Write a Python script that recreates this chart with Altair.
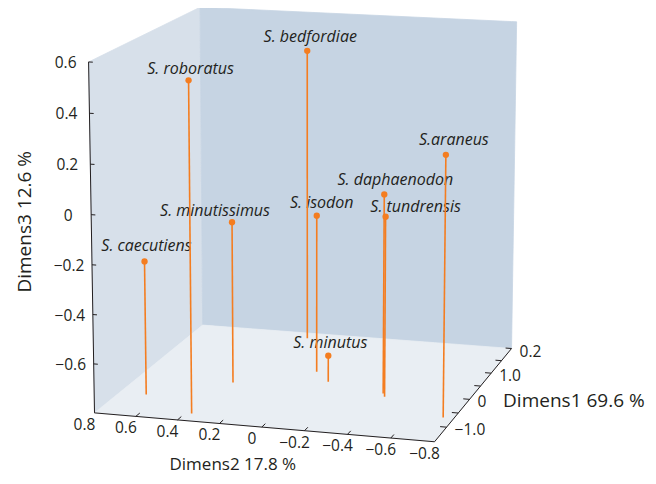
import numpy as np
import pandas as pd
import altair as alt

# ---------------- data ----------------
species = ["S. bedfordiae", "S. roboratus", "S.araneus", "S. daphaenodon", "S. tundrensis",
           "S. isodon", "S. minutissimus", "S. caecutiens", "S. minutus"]
dimens1 = [1.79, -1.25, -0.69, -0.04, -0.15, 0.55, -0.08, -0.74, 0.22]
dimens2 = [0.22, 0.37, -0.75, -0.39, -0.41, 0.01, 0.34, 0.67, -0.09]
dimens3 = [0.45, 0.53, 0.25, 0.02, -0.06, -0.14, -0.13, -0.25, -0.69]

d1_ticks = [-1.0, -0.5, 0.0, 0.5, 1.0, 1.5, 2.0]
d1_label_values = [-1.0, 0.0, 1.0, 2.0]
d1_label_texts = ["−1.0", "0", "1.0", "0.2"]
d2_ticks = [0.8, 0.6, 0.4, 0.2, 0.0, -0.2, -0.4, -0.6, -0.8]
d2_label_texts = ["0.8", "0.6", "0.4", "0.2", "0", "−0.2", "−0.4", "−0.6", "−0.8"]
d3_ticks = [0.6, 0.4, 0.2, 0.0, -0.2, -0.4, -0.6]
d3_label_texts = ["0.6", "0.4", "0.2", "0", "−0.2", "−0.4", "−0.6"]

title1 = "Dimens1 69.6 %"
title2 = "Dimens2 17.8 %"
title3 = "Dimens3 12.6 %"

# ---------------- box and view ----------------
D1_MIN, D1_MAX = -1.5, 2.0
D2_LEFT, D2_RIGHT = 0.8, -0.8
D3_MIN, D3_MAX = -0.8, 0.6

AZIMUTH = np.radians(16.02)
ELEVATION = np.radians(13.0)
DISTANCE = 8.825
FOCAL = 3010.0
CENTER_X, CENTER_Y = 310.8, 212.5
ASPECT_Y, ASPECT_Z = 0.999, 1.018

# label offsets in pixels (layout only)
label_dx = {"S. bedfordiae": 3, "S. roboratus": 2, "S.araneus": 8, "S. daphaenodon": 11,
            "S. tundrensis": 30, "S. isodon": 5, "S. minutissimus": -17, "S. caecutiens": 2,
            "S. minutus": 2}
label_dy = {"S. bedfordiae": -9, "S. roboratus": -6, "S.araneus": -10, "S. daphaenodon": -9,
            "S. tundrensis": -5, "S. isodon": -8, "S. minutissimus": -6, "S. caecutiens": -10,
            "S. minutus": -8}

ORANGE = "#f47d20"
INK = "#231f20"
FONT = "Open Sans"
FACE_COLORS = {"left": "#d7e0ea", "back": "#c6d4e3", "floor": "#e9eef3"}
TICK_FS = 15.5


def project(d1, d2, d3):
    d1 = np.asarray(d1, float); d2 = np.asarray(d2, float); d3 = np.asarray(d3, float)
    X = (D2_LEFT - d2) / (D2_LEFT - D2_RIGHT) - 0.5
    Y = ((d1 - D1_MIN) / (D1_MAX - D1_MIN) - 0.5) * ASPECT_Y
    Z = ((d3 - D3_MIN) / (D3_MAX - D3_MIN) - 0.5) * ASPECT_Z
    xr = np.cos(AZIMUTH) * X + np.sin(AZIMUTH) * Y
    yr = -np.sin(AZIMUTH) * X + np.cos(AZIMUTH) * Y
    depth = yr * np.cos(ELEVATION) - Z * np.sin(ELEVATION) + DISTANCE
    up = yr * np.sin(ELEVATION) + Z * np.cos(ELEVATION)
    return CENTER_X + FOCAL * xr / depth, CENTER_Y - FOCAL * up / depth


XS = alt.Scale(domain=[8, 648], nice=False, zero=False)
YS = alt.Scale(domain=[8, 476], nice=False, zero=False, reverse=True)


def xe(f):
    return alt.X(f, type="quantitative", scale=XS, axis=None)


def ye(f):
    return alt.Y(f, type="quantitative", scale=YS, axis=None, stack=None)


# ---------------- faces ----------------
def face_rows(corners):
    pts = np.array([project(*c) for c in corners])
    rows = []
    n = len(pts)
    for x in np.unique(pts[:, 0]):
        ys = []
        for i in range(n):
            (x1, y1), (x2, y2) = pts[i], pts[(i + 1) % n]
            if (x1 - x) * (x2 - x) <= 0:
                if x1 == x2:
                    ys += [y1, y2]
                else:
                    ys.append(y1 + (y2 - y1) * (x - x1) / (x2 - x1))
        rows.append({"x": float(x), "y": float(min(ys)), "y2": float(max(ys))})
    return pd.DataFrame(rows)


face_corners = {
    "left": [(D1_MIN, D2_LEFT, D3_MIN), (D1_MAX, D2_LEFT, D3_MIN),
             (D1_MAX, D2_LEFT, D3_MAX), (D1_MIN, D2_LEFT, D3_MAX)],
    "back": [(D1_MAX, D2_LEFT, D3_MIN), (D1_MAX, D2_RIGHT, D3_MIN),
             (D1_MAX, D2_RIGHT, D3_MAX), (D1_MAX, D2_LEFT, D3_MAX)],
    "floor": [(D1_MIN, D2_LEFT, D3_MIN), (D1_MIN, D2_RIGHT, D3_MIN),
              (D1_MAX, D2_RIGHT, D3_MIN), (D1_MAX, D2_LEFT, D3_MIN)],
}
face_layers = []
for name, corners in face_corners.items():
    face_layers.append(
        alt.Chart(face_rows(corners)).mark_area(
            orient="vertical", color=FACE_COLORS[name], stroke=FACE_COLORS[name],
            strokeWidth=0.8, opacity=1, fillOpacity=1,
        ).encode(x=xe("x"), y=ye("y"), y2="y2")
    )

# ---------------- axes lines & ticks ----------------
segs = []


def add_seg(a, b):
    x1, y1 = project(*a)
    x2, y2 = project(*b)
    segs.append({"x": float(x1), "y": float(y1), "x2": float(x2), "y2": float(y2)})


add_seg((D1_MIN, D2_LEFT, D3_MIN), (D1_MIN, D2_LEFT, D3_MAX))      # vertical axis
add_seg((D1_MIN, D2_LEFT, D3_MIN), (D1_MIN, D2_RIGHT, D3_MIN))     # Dimens2 axis
add_seg((D1_MIN, D2_RIGHT, D3_MIN), (D1_MAX, D2_RIGHT, D3_MIN))    # Dimens1 axis
for t in d3_ticks:
    add_seg((D1_MIN, D2_LEFT, t), (D1_MIN, D2_LEFT - 0.02, t))
for t in d2_ticks[1:-1]:
    add_seg((D1_MIN, t, D3_MIN), (D1_MIN + 0.12, t, D3_MIN))
for t in d1_ticks:
    add_seg((t, D2_RIGHT, D3_MIN), (t, D2_RIGHT + 0.03, D3_MIN))
axes_layer = alt.Chart(pd.DataFrame(segs)).mark_rule(color=INK, strokeWidth=1).encode(
    x=xe("x"), y=ye("y"), x2="x2", y2="y2")

# tick labels
tl = []
for t, s in zip(d3_ticks, d3_label_texts):
    x, y = project(D1_MIN, D2_LEFT, t)
    tl.append({"x": float(x) - 23, "y": float(y) + 1, "t": s})
for t, s in zip(d2_ticks, d2_label_texts):
    x, y = project(D1_MIN, t, D3_MIN)
    tl.append({"x": float(x) - 10, "y": float(y) + 12, "t": s})
tick_label_layer = alt.Chart(pd.DataFrame(tl)).mark_text(
    font=FONT, fontSize=TICK_FS, color=INK, baseline="middle", align="center").encode(
    x=xe("x"), y=ye("y"), text="t:N")

tl1 = []
for t, s in zip(d1_label_values, d1_label_texts):
    x, y = project(t, D2_RIGHT, D3_MIN)
    tl1.append({"x": float(x) + 8, "y": float(y) + 3, "t": s})
tick_label_layer1 = alt.Chart(pd.DataFrame(tl1)).mark_text(
    font=FONT, fontSize=TICK_FS, color=INK, baseline="middle", align="left").encode(
    x=xe("x"), y=ye("y"), text="t:N")

# axis titles
x2m, y2m = project(D1_MIN, 0.0, D3_MIN)
x1m, y1m = project((D1_MIN + D1_MAX) / 2, D2_RIGHT, D3_MIN)
x3m, y3m = project(D1_MIN, D2_LEFT, (D3_MIN + D3_MAX) / 2)
title2_layer = alt.Chart(pd.DataFrame([{"x": float(x2m) - 29, "y": float(y2m) + 38.2, "t": title2}])).mark_text(
    font=FONT, fontSize=17, color=INK, baseline="middle", align="center").encode(
    x=xe("x"), y=ye("y"), text="t:N")
title1_layer = alt.Chart(pd.DataFrame([{"x": float(x1m) + 28, "y": float(y1m) + 8, "t": title1}])).mark_text(
    font=FONT, fontSize=19, color=INK, baseline="middle", align="left").encode(
    x=xe("x"), y=ye("y"), text="t:N")
title3_layer = alt.Chart(pd.DataFrame([{"x": float(x3m) - 67, "y": float(y3m) - 18, "t": title3}])).mark_text(
    font=FONT, fontSize=19, color=INK, baseline="middle", align="center", angle=270).encode(
    x=xe("x"), y=ye("y"), text="t:N")

# ---------------- species ----------------
tx, ty = project(dimens1, dimens2, dimens3)
bx, by = project(dimens1, dimens2, [D3_MIN] * len(species))
sp = pd.DataFrame({
    "species": species, "x": tx, "y": ty, "bx": bx, "by": by,
    "lx": tx + np.array([label_dx[s] for s in species]),
    "ly": ty + np.array([label_dy[s] for s in species]),
})
stems = alt.Chart(sp).mark_rule(color=ORANGE, strokeWidth=1.6).encode(
    x=xe("x"), y=ye("y"), x2="bx", y2="by")
points = alt.Chart(sp).mark_circle(color=ORANGE, opacity=1, size=40).encode(
    x=xe("x"), y=ye("y"))
labels = alt.Chart(sp).mark_text(
    font=FONT, fontSize=16, fontStyle="italic", color=INK, align="center", baseline="alphabetic").encode(
    x=xe("lx"), y=ye("ly"), text="species:N")

chart = alt.layer(
    *face_layers, axes_layer, labels, stems, points,
    tick_label_layer, tick_label_layer1, title1_layer, title2_layer, title3_layer,
).properties(
    width=640, height=468, padding=0,
    autosize=alt.AutoSizeParams(type="none"),
).configure_view(strokeWidth=0)

chart.save("out.html", embed_options={"renderer": "svg", "actions": False})
